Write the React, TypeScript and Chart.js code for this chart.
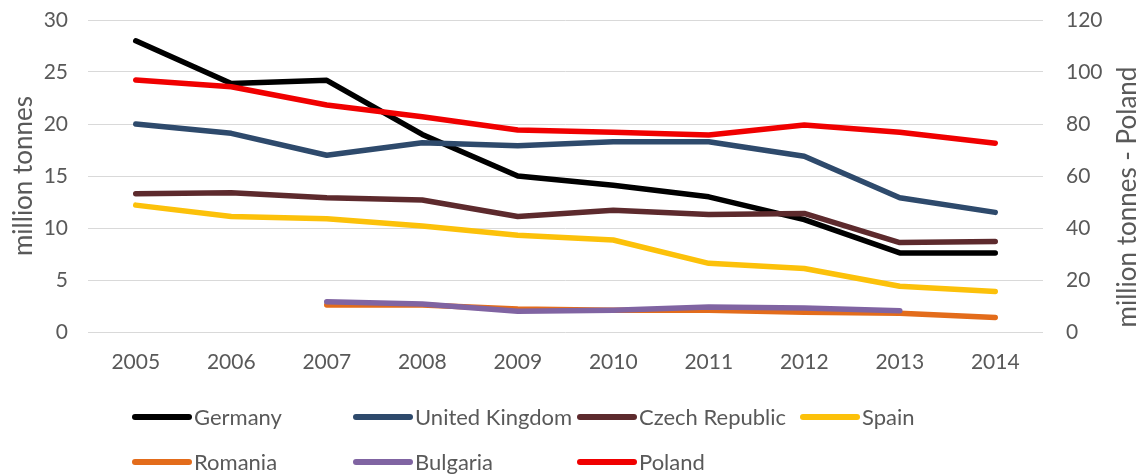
import { useEffect, useRef } from "react";
import { Chart, registerables } from "chart.js";

Chart.register(...registerables);

const years = ["2005", "2006", "2007", "2008", "2009", "2010", "2011", "2012", "2013", "2014"];
const germany = [28.0, 23.9, 24.2, 19.0, 15.0, 14.1, 13.0, 10.8, 7.6, 7.6];
const unitedKingdom = [20.0, 19.1, 17.0, 18.2, 17.9, 18.3, 18.3, 16.9, 12.9, 11.5];
const czechRepublic = [13.3, 13.4, 12.9, 12.7, 11.1, 11.7, 11.3, 11.4, 8.6, 8.7];
const spain = [12.2, 11.1, 10.9, 10.2, 9.3, 8.85, 6.6, 6.1, 4.4, 3.9];
const romania = [null, null, 2.6, 2.6, 2.2, 2.1, 2.1, 1.9, 1.8, 1.4];
const bulgaria = [null, null, 2.9, 2.7, 2.0, 2.1, 2.4, 2.3, 2.05, null];
const poland = [96.9, 94.3, 87.3, 82.8, 77.7, 76.8, 75.8, 79.6, 76.8, 72.6];

const leftAxisTitle = "million tonnes";
const rightAxisTitle = "million tonnes - Poland";

const FONT = "Lato, 'Open Sans', sans-serif";
const TEXT = "#595959";

// legend layout (not data)
const legendCols = [132, 353, 577, 800];
const legendRows = [417, 462];
const legendSlots = [
  [0, 0], [0, 1], [0, 2], [0, 3],
  [1, 0], [1, 1], [1, 2],
];

const decorPlugin = {
  id: "decor",
  afterDraw(chart: any) {
    const ctx = chart.ctx;
    ctx.save();
    // right axis title, reading bottom-to-top
    ctx.translate(1128, 197);
    ctx.rotate(-Math.PI / 2);
    ctx.font = `26px ${FONT}`;
    ctx.fillStyle = TEXT;
    ctx.textAlign = "center";
    ctx.textBaseline = "middle";
    ctx.fillText(rightAxisTitle, 0, 0);
    ctx.restore();

    // legend
    ctx.save();
    ctx.font = `22px ${FONT}`;
    ctx.textBaseline = "middle";
    ctx.textAlign = "left";
    chart.data.datasets.forEach((ds: any, i: number) => {
      const [r, c] = legendSlots[i];
      const x = legendCols[c];
      const y = legendRows[r];
      ctx.strokeStyle = ds.borderColor;
      ctx.lineWidth = 6;
      ctx.lineCap = "round";
      ctx.beginPath();
      ctx.moveTo(x + 3, y);
      ctx.lineTo(x + 57, y);
      ctx.stroke();
      ctx.fillStyle = TEXT;
      ctx.fillText(ds.label, x + 62, y + 1);
    });
    ctx.restore();
  },
};

const fixVertical = (w: number) => (s: any) => {
  s.width = w;
  s.paddingTop = 0;
  s.paddingBottom = 0;
};

export default function App() {
  const ref = useRef<HTMLCanvasElement | null>(null);
  useEffect(() => {
    if (!ref.current) return;
    const line = { pointRadius: 0, borderWidth: 5.5, borderCapStyle: "round", borderJoinStyle: "round", tension: 0, fill: false };
    const chart = new Chart(ref.current, {
      type: "line",
      data: {
        labels: years,
        datasets: [
          { label: "Germany", data: germany, borderColor: "#000000", backgroundColor: "#000000", yAxisID: "y", order: 6, ...line },
          { label: "United Kingdom", data: unitedKingdom, borderColor: "#2e4a6c", backgroundColor: "#2e4a6c", yAxisID: "y", order: 5, ...line },
          { label: "Czech Republic", data: czechRepublic, borderColor: "#5d2a2d", backgroundColor: "#5d2a2d", yAxisID: "y", order: 4, ...line },
          { label: "Spain", data: spain, borderColor: "#fcc10a", backgroundColor: "#fcc10a", yAxisID: "y", order: 3, ...line },
          { label: "Romania", data: romania, borderColor: "#e36c1b", backgroundColor: "#e36c1b", yAxisID: "y", order: 2, ...line },
          { label: "Bulgaria", data: bulgaria, borderColor: "#8064a2", backgroundColor: "#8064a2", yAxisID: "y", order: 1, ...line },
          { label: "Poland", data: poland, borderColor: "#f00000", backgroundColor: "#f00000", yAxisID: "y1", order: 0, ...line },
        ] as any,
      },
      options: {
        animation: false,
        responsive: true,
        maintainAspectRatio: false,
        layout: { padding: { top: 20, bottom: 0, left: 0, right: 0 } },
        plugins: { legend: { display: false }, tooltip: { enabled: false } },
        scales: {
          x: {
            offset: true,
            grid: { display: false, drawTicks: false },
            border: { display: false },
            ticks: { color: TEXT, font: { family: FONT, size: 21 }, padding: 18 },
            afterFit: (s: any) => { s.height = 144; s.paddingLeft = 0; s.paddingRight = 0; },
          },
          y: {
            position: "left",
            min: 0,
            max: 30,
            ticks: { stepSize: 5, color: TEXT, font: { family: FONT, size: 21 }, padding: 20 },
            grid: { color: "#d9d9d9", lineWidth: 1, drawTicks: false },
            border: { display: false },
            title: { display: true, text: leftAxisTitle, color: TEXT, font: { family: FONT, size: 26 }, padding: { top: 8, bottom: 0 } },
            afterFit: fixVertical(88),
          },
          y1: {
            position: "right",
            min: 0,
            max: 120,
            ticks: { stepSize: 20, color: TEXT, font: { family: FONT, size: 21 }, padding: 23 },
            grid: { display: false, drawTicks: false },
            border: { display: false },
            afterFit: fixVertical(99),
          },
        },
      } as any,
      plugins: [decorPlugin],
    });
    return () => chart.destroy();
  }, []);
  return (
    <div style={{ position: "fixed", left: 0, top: 0, width: 1142, height: 476, background: "#fff" }}>
      <canvas ref={ref} />
    </div>
  );
}
